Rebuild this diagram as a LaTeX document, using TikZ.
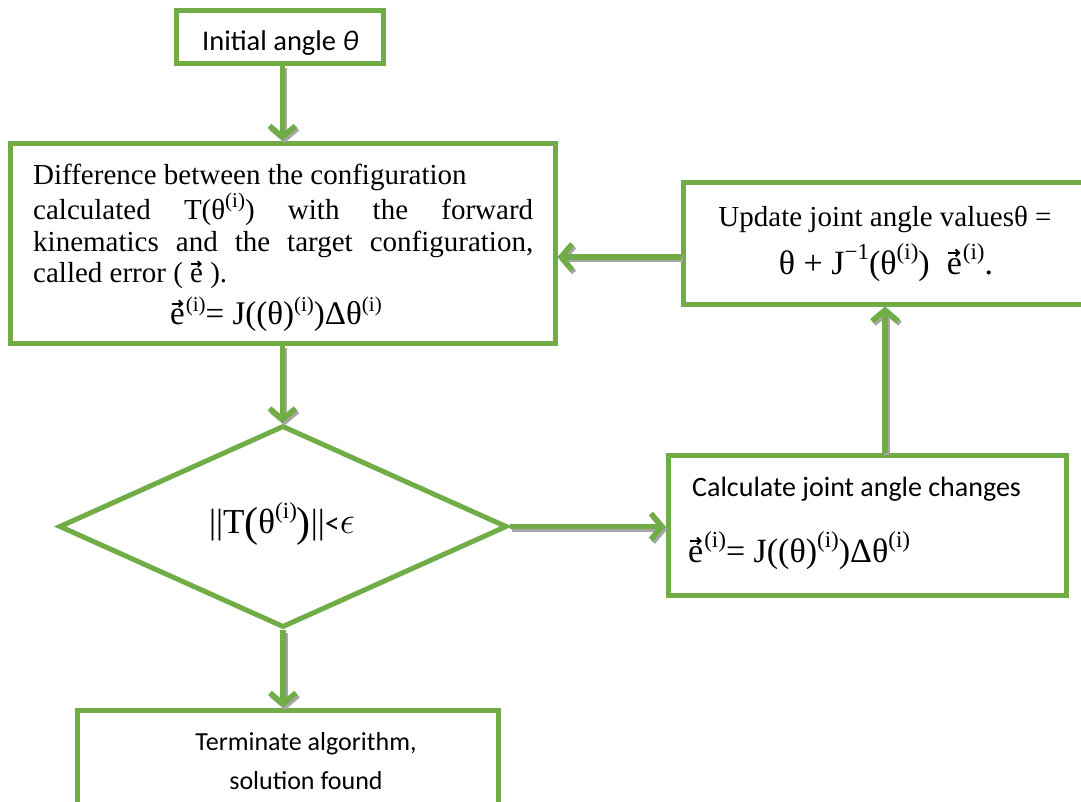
\RequirePackage{fix-cm}
\documentclass[tikz,border=0pt]{standalone}
\usepackage{fontspec}
\setmainfont{Liberation Serif}
\newfontfamily\calfont{Carlito}
\usetikzlibrary{shapes.geometric,arrows.meta}
\definecolor{grn}{HTML}{70AD47}
\newcommand{\ev}{\makebox[0.444em][c]{e}\llap{\makebox[0.444em][c]{\raisebox{0.62em}{\tikz[baseline=0pt]\draw[line width=0.06em, -{Straight Barb[length=0.1em,width=0.2em]}] (0,0) -- (0.36em,0);}}}}
\newcommand{\sps}{\raisebox{0.42em}{\fontsize{23}{23}\selectfont(i)}}
\newcommand{\spt}{\raisebox{0.38em}{\fontsize{21}{21}\selectfont(i)}}
\newcommand{\spm}{\raisebox{0.42em}{\fontsize{23}{23}\selectfont−1}}
\newcommand{\evs}{\ev\kern1pt\sps}
\newcommand{\evt}{\ev\kern1pt\spt}
\newcommand{\bigp}[1]{\raisebox{-3pt}{\fontsize{42}{42}\selectfont#1}}
\tikzset{
  box/.style={draw=grn, line width=5pt, fill=white, inner sep=0pt, rectangle},
  conn/.style={draw=grn, line width=5.5pt, -{Straight Barb[length=11pt,width=26pt]}},
  connsh/.style={draw=black!35, line width=5.5pt, -{Straight Barb[length=11pt,width=26pt]},
    transform canvas={shift={(2pt,-2.5pt)}}},
  txt/.style={inner sep=0pt, font=\fontsize{29}{30}\selectfont},
  mtxt/.style={inner sep=0pt, font=\fontsize{34}{34}\selectfont},
  ctxt/.style={inner sep=0pt, font=\calfont\fontsize{27}{30}\selectfont},
}
\newcommand{\cn}[2]{\draw[connsh] #1 -- #2; \draw[conn] #1 -- #2;}
\begin{document}
\begin{tikzpicture}[x=1pt,y=-1pt]
\useasboundingbox (0,0) rectangle (1081,801);
% boxes
\node[box, minimum width=207pt, minimum height=53pt] (init) at (279.5,36.5) {};
\node[box, minimum width=545pt, minimum height=200pt] (diff) at (282.5,243) {};
\node[box, minimum width=404pt, minimum height=122pt] (upd) at (885,243) {};
\node[box, diamond, minimum width=448pt, minimum height=202pt] (dia) at (283,526.5) {};
\node[box, minimum width=398pt, minimum height=140pt] (calc) at (867,525) {};
\node[box, minimum width=421pt, minimum height=112pt] (term) at (287.5,766) {};
% texts
\node[ctxt, font=\calfont\fontsize{28.5}{30}\selectfont, anchor=base west] (t0) at (202,50) {Initial angle \textit{θ}};
\node[txt, anchor=base west] (d1) at (33,184) {Difference between the configuration};
\node[txt, anchor=base west] (d2) at (33,219) {\makebox[500pt][s]{calculated T(θ\spt) with the forward}};
\node[txt, anchor=base west] (d3) at (33,251) {\makebox[500pt][s]{kinematics and the target configuration,}};
\node[txt, anchor=base west] (d4) at (33,282) {called error ( \ev\ ).};
\node[mtxt, font=\fontsize{33}{33}\selectfont, anchor=base] (d5) at (276,324) {\evt= J((θ)\spt)Δθ\spt};
\node[txt, anchor=base] (u1) at (885,226) {Update joint angle valuesθ =};
\node[mtxt, anchor=base] (u2) at (886,274) {θ + J\spm(θ\sps)\ \ \evs.};
\node[mtxt, font=\fontsize{35}{35}\selectfont, anchor=base] (q1) at (282,533) {||T\bigp{(}θ\sps\bigp{)}||{\calfont\fontsize{30}{30}\selectfont <}{\fontsize{38}{38}\selectfont$\epsilon$}};
\node[ctxt, font=\calfont\fontsize{28}{30}\selectfont, anchor=base west] (c1) at (692,496) {Calculate joint angle changes};
\node[mtxt, anchor=base west] (c2) at (688,562) {\evs= J((θ)\sps)Δθ\sps};
\node[ctxt, font=\calfont\fontsize{26}{30}\selectfont, anchor=base] (e1) at (306,750) {Terminate algorithm,};
\node[ctxt, font=\calfont\fontsize{26}{30}\selectfont, anchor=base] (e2) at (306,789) {solution found};
% connectors
\cn{(init.south -| diff.north)}{(diff.north)}
\cn{(diff.south)}{(diff.south |- dia.north)}
\cn{(dia.east)}{(dia.east -| calc.west)}
\cn{(calc.north -| upd.south)}{(upd.south)}
\cn{([yshift=-14pt]upd.west)}{([yshift=-14pt]upd.west -| diff.east)}
\cn{(dia.south)}{(dia.south |- term.north)}
\end{tikzpicture}
\end{document}
